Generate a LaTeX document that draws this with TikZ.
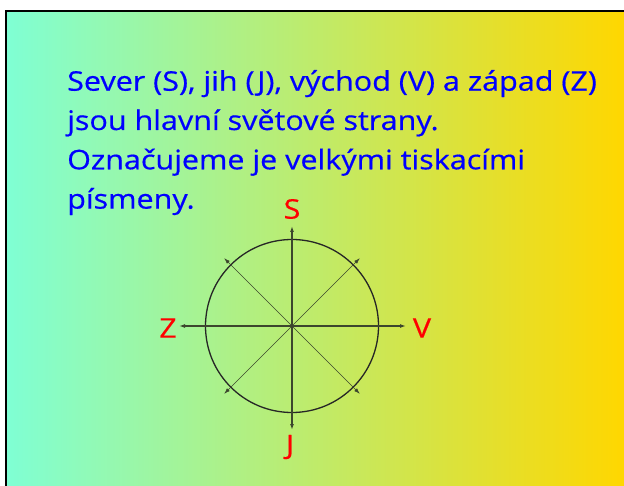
\documentclass[tikz,border=0pt]{standalone}
\usepackage{fontspec}
\setmainfont{Open Sans}[FakeStretch=1.13, FakeBold=0.5]
\usetikzlibrary{positioning, arrows.meta}
\definecolor{sheetleft}{RGB}{127,255,212}
\definecolor{sheetright}{RGB}{255,215,0}
\definecolor{textblue}{RGB}{0,0,255}
\definecolor{dirred}{RGB}{255,0,0}
\definecolor{axisline}{RGB}{60,70,45}
\tikzset{
  leadline/.style={
    text=textblue, font=\fontsize{27}{30}\selectfont,
    anchor=base west, inner sep=0pt
  },
  dirlabel/.style={
    text=dirred, font=\fontsize{27}{30}\selectfont, inner sep=0pt
  },
  ring/.style={
    circle, draw=black!85, line width=1.3pt,
    minimum size=173pt, inner sep=0pt
  },
  mainaxis/.style={
    -{Latex[length=6pt,width=4pt]}, draw=axisline, line width=1.2pt
  },
  sideaxis/.style={
    -{Latex[length=6pt,width=4pt]}, draw=axisline, line width=0.65pt
  }
}
\begin{document}
\begin{tikzpicture}[x=1pt, y=-1pt]
  \useasboundingbox (0,0) rectangle (624,486);
  \fill[white] (0,0) rectangle (624,486);
  \shade[left color=sheetleft, right color=sheetright] (6,11.5) rectangle (624,486);
  \draw[black, line width=2pt] (6,486) -- (6,11.5) -- (624,11.5);

  \node[leadline] (line1) at (67,90.7) {Sever (S), jih (J), východ (V) a západ (Z)};
  \node[leadline] (line2) at ([yshift=-39.3pt]line1.base west) {jsou hlavní světové strany.};
  \node[leadline] (line3) at ([yshift=-39.3pt]line2.base west) {Označujeme je velkými tiskacími};
  \node[leadline] (line4) at ([yshift=-39.3pt]line3.base west) {písmeny.};

  % compass
  \coordinate (c) at (292,326);
  \node[ring] (rim) at (c) {};

  \node[dirlabel] (sever)  at (292,209) {S};
  \node[dirlabel] (jih)    at (290,447) {J};
  \node[dirlabel] (zapad)  at (168,328) {Z};
  \node[dirlabel] (vychod) at (422,328) {V};

  \coordinate (tipS) at (292,226);
  \coordinate (tipJ) at (292,430);
  \coordinate (tipZ) at (179,326);
  \coordinate (tipV) at (406,326);

  \draw[mainaxis] (c) -- (tipS);
  \draw[mainaxis] (c) -- (tipJ);
  \draw[mainaxis] (c) -- (tipZ);
  \draw[mainaxis] (c) -- (tipV);

  \foreach \a in {45,135,225,315}{
    \path (c) ++(\a:96) coordinate (diag\a);
    \draw[sideaxis] (c) -- (diag\a);
  }
\end{tikzpicture}
\end{document}
